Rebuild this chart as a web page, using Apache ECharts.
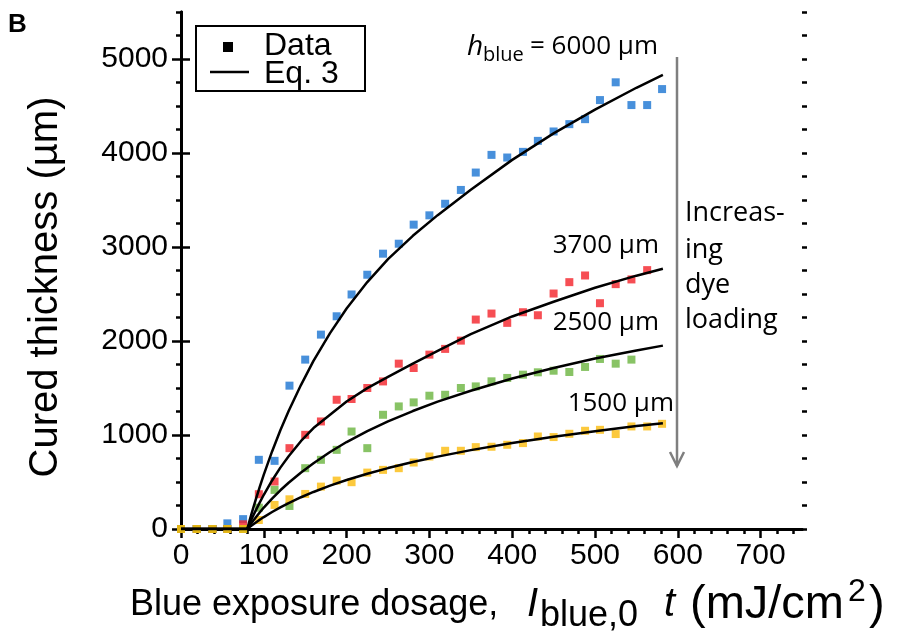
<!DOCTYPE html>
<html>
<head>
<meta charset="utf-8">
<script src="https://cdn.jsdelivr.net/npm/echarts@6/dist/echarts.min.js"></script>
<style>
  html, body { margin: 0; padding: 0; background: #fff; }
  #chart { width: 903px; height: 633px; }
</style>
</head>
<body>
<div id="chart"></div>
<script>
// exposure dosage of each measured point (mJ/cm2)
const dosage = [0, 19, 38, 56, 75, 94, 113, 131, 150, 169, 188, 206, 225, 244, 263, 281,
  300, 319, 338, 356, 375, 394, 413, 431, 450, 469, 488, 506, 525, 544, 563, 581];

// measured cured thickness (um), one list per dye loading
const data6000 = [0, 0, 0, 60, 105, 736, 725, 1525, 1802, 2068, 2263, 2495, 2705, 2929, 3035, 3238,
  3337, 3460, 3607, 3792, 3980, 3952, 4012, 4129, 4229, 4307, 4360, 4563, 4752, 4510, 4510, 4680];
const data3700 = [0, 0, 0, 0, 50, 370, 505, 860, 1002, 1144, 1375, 1383, 1500, 1570, 1759, 1713,
  1855, 1916, 2004, 2228, 2292, 2193, 2306, 2274, 2505, 2626, 2697, 2402, 2605, 2655, 2754];
const data2500 = [0, 0, 0, 0, 0, 227, 416, 245, 647, 736, 842, 1037, 860, 1215, 1304, 1347,
  1418, 1428, 1500, 1517, 1571, 1607, 1642, 1667, 1684, 1670, 1724, 1809, 1759, 1802];
const data1500 = [0, 0, 0, 0, 0, 96, 256, 316, 373, 451, 515, 498, 600, 629, 647, 707,
  771, 832, 832, 871, 875, 896, 914, 984, 978, 1013, 1045, 1055, 1010, 1091, 1091, 1119];

// Eq. 3 fit curves
const fitX = [0, 80, 82, 84, 87, 90, 95, 100, 110, 120, 130, 145, 160, 180, 200, 225,
  250, 280, 310, 350, 400, 450, 500, 550, 582];
const fit6000 = [0, 0, 64, 126, 217, 305, 445, 578, 825, 1050, 1255, 1534, 1788, 2084, 2346, 2627,
  2871, 3119, 3339, 3609, 3927, 4209, 4462, 4694, 4830];
const fit3700 = [0, 0, 41, 81, 138, 193, 281, 364, 516, 653, 774, 937, 1074, 1216, 1356, 1499,
  1618, 1760, 1896, 2074, 2261, 2418, 2566, 2695, 2768];
const fit2500 = [0, 0, 25, 50, 86, 120, 175, 228, 324, 412, 492, 601, 700, 819, 925, 1041,
  1145, 1255, 1355, 1471, 1601, 1713, 1814, 1899, 1951];
const fit1500 = [0, 0, 14, 28, 48, 67, 98, 127, 181, 230, 276, 338, 394, 461, 521, 587,
  648, 712, 770, 839, 915, 982, 1041, 1095, 1126];

const xTicks = [0, 100, 200, 300, 400, 500, 600, 700];
const yTicks = [0, 1000, 2000, 3000, 4000, 5000];

const colors = ["#1a74d2", "#f42229", "#6ab43e", "#fbbb0c"];

function pairs(xs, ys) {
  return ys.map(function (v, i) { return [xs[i], v]; });
}

// minor tick positions
let xMinor = [];
for (let v = 0; v < 750; v += 20) xMinor.push(v);
let yMinor = [];
for (let v = 0; v <= 5500; v += 250) yMinor.push(v);

let chart = echarts.init(document.getElementById("chart"));

let black = "#000";
let tickFont = {
  color: black, fontSize: 30, fontFamily: "Liberation Sans",
  formatter: function (v) { return String(v); }
};

let option = {
  animation: false,
  grid: { left: 181, right: 101, top: 12, bottom: 104 },
  xAxis: [
    {
      type: "value", min: 0, max: 750, interval: 100, position: "bottom",
      axisLine: { lineStyle: { color: black, width: 3 } },
      axisTick: { customValues: xTicks, length: 9, lineStyle: { color: black, width: 2.5 } },
      axisLabel: Object.assign({ customValues: xTicks, margin: 12 }, tickFont),
      splitLine: { show: false }
    },
    {
      type: "value", min: 0, max: 750, position: "bottom",
      axisLine: { show: false },
      axisTick: { customValues: xMinor, length: 5, lineStyle: { color: black, width: 2.5 } },
      axisLabel: { show: false },
      splitLine: { show: false }
    },
    {
      type: "value", min: 0, max: 750, position: "top",
      axisLine: { lineStyle: { color: black, width: 3 } },
      axisTick: { show: false },
      axisLabel: { show: false },
      splitLine: { show: false }
    }
  ],
  yAxis: [
    {
      type: "value", min: 0, max: 5500, interval: 1000, position: "left",
      axisLine: { show: true, lineStyle: { color: black, width: 3 } },
      axisTick: { show: true, customValues: yTicks, length: 9, lineStyle: { color: black, width: 2.5 } },
      axisLabel: Object.assign({ customValues: yTicks, margin: 13 }, tickFont),
      splitLine: { show: false }
    },
    {
      type: "value", min: 0, max: 5500, position: "left",
      axisLine: { show: false },
      axisTick: { show: true, customValues: yMinor, length: 5, lineStyle: { color: black, width: 2.5 } },
      axisLabel: { show: false },
      splitLine: { show: false }
    },
    {
      type: "value", min: 0, max: 5500, position: "right",
      axisLine: { show: true, lineStyle: { color: black, width: 3 } },
      axisTick: { show: true, customValues: yTicks, length: 9, lineStyle: { color: black, width: 2.5 } },
      axisLabel: { show: false },
      splitLine: { show: false }
    },
    {
      type: "value", min: 0, max: 5500, position: "right",
      axisLine: { show: false },
      axisTick: { show: true, customValues: yMinor, length: 5, lineStyle: { color: black, width: 2.5 } },
      axisLabel: { show: false },
      splitLine: { show: false }
    }
  ],
  series: [],
  graphic: []
};

let dataSets = [data6000, data3700, data2500, data1500];
let fitSets = [fit6000, fit3700, fit2500, fit1500];
let names = ["6000", "3700", "2500", "1500"];

for (let i = 0; i < dataSets.length; i++) {
  option.series.push({
    name: names[i] + " data",
    type: "scatter",
    symbol: "rect",
    symbolSize: 8,
    itemStyle: { color: colors[i] },
    data: pairs(dosage, dataSets[i]),
    z: 2
  });
}
for (let i = 0; i < fitSets.length; i++) {
  option.series.push({
    name: names[i] + " fit",
    type: "line",
    smooth: false,
    showSymbol: false,
    lineStyle: { color: black, width: 2.5, join: "round" },
    data: pairs(fitX, fitSets[i]),
    z: 3
  });
}

function txt(x, y, text, font, align, extra) {
  return Object.assign({
    type: "text", x: x, y: y, z: 10,
    style: {
      text: text, font: font, fill: black,
      align: align || "left", verticalAlign: "middle",
      textAlign: align || "left", textVerticalAlign: "middle"
    }
  }, extra || {});
}

let annoFont = "26px 'Open Sans'";
let arial = "'Liberation Sans'";
option.graphic = [
  // panel letter
  txt(8, 25, "B", "bold 26px " + arial),
  // legend box
  { type: "rect", shape: { x: 196, y: 26, width: 169, height: 65 },
    style: { fill: "#fff", stroke: black, lineWidth: 2 }, z: 9 },
  { type: "rect", shape: { x: 223, y: 42, width: 10, height: 10 }, style: { fill: black }, z: 10 },
  { type: "line", shape: { x1: 210, y1: 72, x2: 249, y2: 72 }, style: { stroke: black, lineWidth: 2.5 }, z: 10 },
  txt(264, 46, "Data", "32px " + arial),
  txt(264, 74, "Eq. 3", "32px " + arial),
  // curve labels
  txt(467, 47, "h", "italic 28px 'Open Sans'"),
  txt(483, 55, "blue", "20px 'Open Sans'"),
  txt(530, 47, "= 6000 \u00b5m", annoFont),
  txt(659, 246, "3700 \u00b5m", annoFont, "right"),
  txt(659, 323, "2500 \u00b5m", annoFont, "right"),
  txt(674, 404, "1500 \u00b5m", annoFont, "right"),
  // arrow
  { type: "line", shape: { x1: 677, y1: 57, x2: 677, y2: 466 }, style: { stroke: "#7f7f7f", lineWidth: 2.5 }, z: 10 },
  { type: "polyline", shape: { points: [[670, 452], [677, 466], [684, 452]] },
    style: { stroke: "#7f7f7f", lineWidth: 2.5, fill: null }, z: 10 },
  txt(685, 213, "Increas-", "27px 'Open Sans'"),
  txt(685, 250, "ing", "27px 'Open Sans'"),
  txt(685, 285, "dye", "27px 'Open Sans'"),
  txt(685, 320, "loading", "27px 'Open Sans'"),
  // axis titles
  txt(46, 287, "Cured thickness (\u00b5m)", "40px " + arial, "center", { rotation: Math.PI / 2 }),
  txt(130, 605, "Blue exposure dosage,", "36px " + arial),
  txt(527, 605, "I", "italic 40px " + arial),
  txt(540, 616, "blue,0", "36px " + arial),
  txt(664, 605, "t", "italic 40px " + arial),
  txt(690, 605, "(mJ/cm", "47px " + arial),
  txt(848, 592, "2", "32px " + arial),
  txt(869, 605, ")", "47px " + arial)
];

chart.setOption(option);
</script>
</body>
</html>
